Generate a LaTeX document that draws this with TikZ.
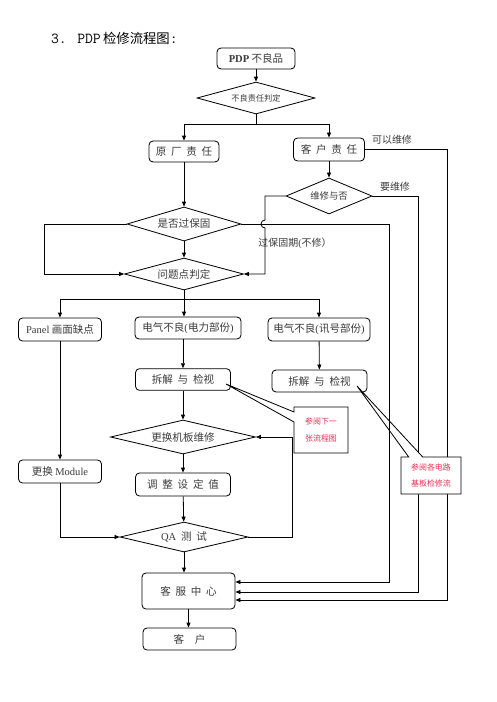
\documentclass[tikz,border=0pt]{standalone}
\usepackage{fontspec}
\setmainfont{Liberation Serif}
\newfontfamily\cjk{Noto Sans CJK SC}
\usetikzlibrary{
  arrows.meta, shapes.geometric, shapes.callouts,
  positioning, calc
}
\definecolor{InkGray}{RGB}{60,60,60}
\definecolor{NoteRed}{RGB}{232,48,86}
\newcommand{\en}[1]{{\rmfamily #1}}
\newcommand{\chgap}{\hspace{0.45em}}

\begin{document}
\begin{tikzpicture}[x=0.03cm,y=-0.03cm,
        box/.style={rectangle,rounded corners=1.2mm,draw=black,line width=0.7pt,
                    fill=white,text=InkGray,inner sep=0pt,
                    font=\cjk\fontsize{9}{11}\selectfont},
        choice/.style={diamond,draw=black,line width=0.7pt,fill=white,
                       text=InkGray,inner sep=0pt,shape aspect=3.5,
                       font=\cjk\fontsize{9}{11}\selectfont},
        note/.style={rectangle callout,draw=black,line width=0.7pt,fill=white,
                     text=NoteRed,align=center,inner sep=0pt,
                     font=\cjk\fontsize{6.8}{14}\selectfont},
        tag/.style={text=InkGray,font=\cjk\fontsize{8.5}{10}\selectfont},
        link/.style={draw=black,line width=0.7pt},
        go/.style={link,-{Triangle[length=1.5mm,width=1.2mm]}}
      ]
        \useasboundingbox (0,0) rectangle (496,702);

        \node[anchor=west,font=\cjk\fontsize{11.4}{13}\selectfont] (title) at (47,38)
          {{\ttfamily\fontsize{13}{13}\selectfont 3. PDP}\,检修流程图{\ttfamily\fontsize{13}{13}\selectfont :}};

        \node[box,minimum width=2.34cm,minimum height=0.63cm] (start) at (256,58.5) {\en{\textbf{PDP}} 不良品};
        \node[choice,font=\cjk\fontsize{7}{9}\selectfont,minimum width=3.54cm,minimum height=0.96cm] (judge) at (256,98) {不良责任判定};
        \node[box,minimum width=2.1cm,minimum height=0.63cm] (factory) at (184,151.5) {原\chgap 厂\chgap 责\chgap 任};
        \node[box,minimum width=2.13cm,minimum height=0.69cm] (customer) at (329,149.5) {客\chgap 户\chgap 责\chgap 任};
        \node[choice,font=\cjk\fontsize{8}{10}\selectfont,minimum width=2.58cm,minimum height=1.08cm] (repair) at (329,196) {维修与否};
        \node[choice,minimum width=3.42cm,minimum height=1.02cm] (warranty) at (184,224) {是否过保固};
        \node[choice,minimum width=3.57cm,minimum height=0.96cm] (problem) at (184,274) {问题点判定};
        \node[box,minimum width=2.49cm,minimum height=0.69cm] (panel) at (60,329.5) {\en{Panel} 画面缺点};
        \node[box,minimum width=3.18cm,minimum height=0.66cm] (power) at (188,328) {电气不良\en{(}电力部份\en{)}};
        \node[box,minimum width=3.06cm,minimum height=0.69cm] (signal) at (319,329.5) {电气不良\en{(}讯号部份\en{)}};
        \node[box,minimum width=2.85cm,minimum height=0.65cm] (splitA) at (183,379.5) {拆解\chgap 与\chgap 检视};
        \node[box,minimum width=2.85cm,minimum height=0.66cm] (splitB) at (319.5,381) {拆解\chgap 与\chgap 检视};
        \node[choice,minimum width=4.35cm,minimum height=1.02cm] (board) at (183,437) {更换机板维修};
        \node[box,minimum width=2.85cm,minimum height=0.69cm] (adjust) at (183,484.5) {调\chgap 整\chgap 设\chgap 定\chgap 值};
        \node[box,minimum width=2.49cm,minimum height=0.69cm] (module) at (60,471.5) {更换 \en{Module}};
        \node[choice,minimum width=3.84cm,minimum height=0.9cm] (qa) at (184,537) {\en{QA}\chgap 测\chgap 试};
        \node[box,minimum width=2.79cm,minimum height=1.08cm] (service) at (188.5,591) {客\chgap 服\chgap 中\chgap 心};
        \node[box,minimum width=2.79cm,minimum height=0.66cm] (client) at (189.5,639) {客\hspace{1em}户};

        \node[tag] (canfix) at (392,140) {可以维修};
        \node[tag] (needfix) at (395,187) {要维修};
        \node[tag] (expired) at (295,243) {过保固期\en{(}不修）};

        \coordinate (tipA) at (226,384);
        \coordinate (tipB) at (357,386);
        \coordinate (loopL) at (44,274);
        \coordinate (jumpTop) at (265,220);
        \coordinate (loopR) at (265,274);
        \coordinate (loopQ) at (292,437);
        \coordinate (laneA) at (389,582);
        \coordinate (laneB) at (418,592);
        \coordinate (laneC) at (447,600);

        \draw[go] (start) -- (judge);
        \draw[link] (judge.south) -- (256,124) coordinate (fork1);
        \draw[go] (fork1) -| (factory.north);
        \draw[go] (fork1) -| (customer.north);
        \draw[go] (factory) -- (warranty);
        \draw[go] (customer) -- (repair);
        \draw[go] (warranty) -- (problem);
        \draw[go] (warranty.west) -| (loopL) -- (problem.west);
        \draw[go] (repair.west) -| (jumpTop)
          arc[start angle=90,end angle=270,radius=0.12cm] -- (loopR) -- (problem.east);
        \draw[go] (repair.east) -| (laneB) -- (laneB -| service.east);
        \draw[go] (customer.east) -| (laneC) -- (laneC -| service.east);

        \draw[link] (problem.south) -- (184,299) coordinate (fork2);
        \draw[go] (fork2) -| (panel.north);
        \draw[go] (fork2) -- (fork2 |- power.north);
        \draw[go] (fork2) -| (signal.north);
        \draw[go] (splitA.north |- power.south) -- (splitA.north);
        \draw[go] (signal) -- (splitB);
        \draw[go] (splitA) -- (board);
        \draw[go] (board) -- (adjust);
        \draw[go] (adjust) -- (qa);
        \draw[go] (panel) -- (module);
        \draw[go] (module.south) |- (qa.west);
        \draw[go] (qa.east) -| (loopQ) -- (board.east);
        \draw[go] (qa.south) -- (qa.south |- service.north);
        \draw[go] (service.south) -- (service.south |- client.north);

        \node[note,minimum width=1.62cm,minimum height=1.38cm,
              callout absolute pointer={(tipA)},callout pointer width=0.3cm] (noteA) at (321,430)
          {参阅下一\\张流程图};
        \node[note,minimum width=1.8cm,minimum height=1.11cm,
              callout absolute pointer={(tipB)},callout pointer width=0.42cm] (noteB) at (431,475.5)
          {参阅各电路\\基板检修流};

        \draw[go] (warranty.east) -| (laneA) -- (laneA -| service.east);
      \end{tikzpicture}
\end{document}
